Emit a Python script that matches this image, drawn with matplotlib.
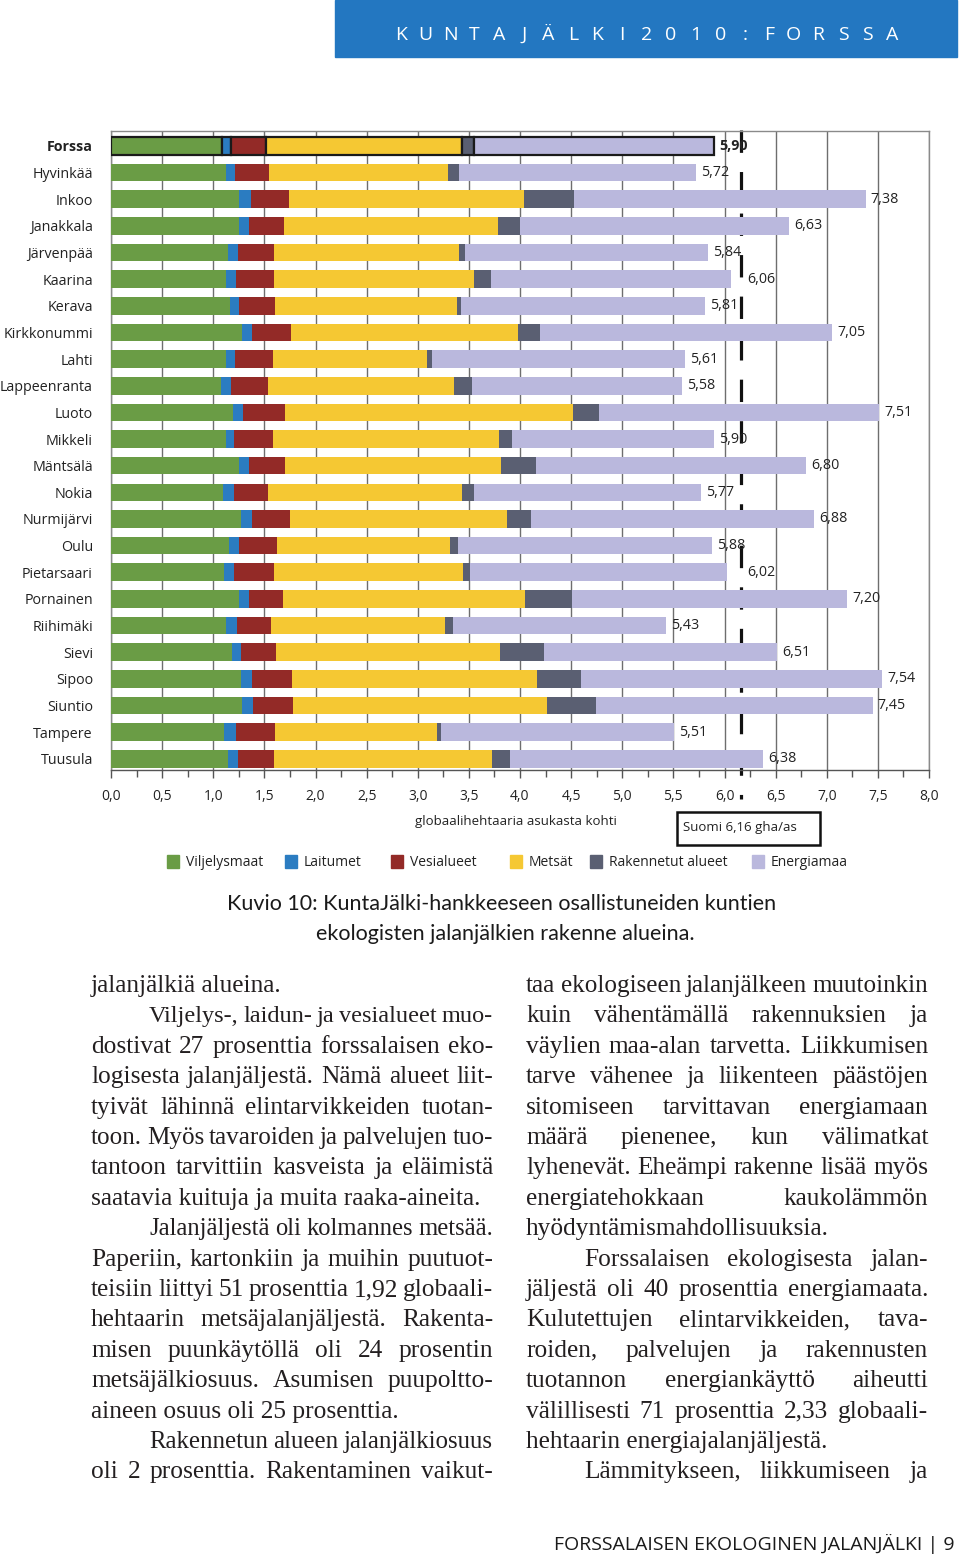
import numpy as np
import matplotlib.pyplot as plt
from matplotlib.patches import Rectangle
from matplotlib.ticker import MultipleLocator

# Kunnat ja jalanjäljen osat (gha/asukas)
kunnat = ['Forssa', 'Hyvinkää', 'Inkoo', 'Janakkala', 'Järvenpää', 'Kaarina', 'Kerava',
          'Kirkkonummi', 'Lahti', 'Lappeenranta', 'Luoto', 'Mikkeli', 'Mäntsälä', 'Nokia',
          'Nurmijärvi', 'Oulu', 'Pietarsaari', 'Pornainen', 'Riihimäki', 'Sievi', 'Sipoo',
          'Siuntio', 'Tampere', 'Tuusula']
viljelysmaat = [1.09, 1.12, 1.25, 1.25, 1.14, 1.12, 1.16, 1.28, 1.12, 1.08, 1.19, 1.12,
                1.25, 1.10, 1.27, 1.15, 1.11, 1.25, 1.12, 1.18, 1.27, 1.28, 1.11, 1.14]
laitumet = [0.08, 0.09, 0.12, 0.10, 0.10, 0.10, 0.09, 0.10, 0.09, 0.09, 0.10, 0.08,
            0.10, 0.10, 0.11, 0.10, 0.09, 0.10, 0.11, 0.09, 0.11, 0.11, 0.11, 0.10]
vesialueet = [0.35, 0.34, 0.37, 0.34, 0.35, 0.37, 0.35, 0.38, 0.37, 0.37, 0.41, 0.38,
              0.35, 0.34, 0.37, 0.37, 0.39, 0.33, 0.33, 0.34, 0.39, 0.39, 0.38, 0.35]
metsat = [1.91, 1.75, 2.30, 2.09, 1.81, 1.96, 1.78, 2.22, 1.51, 1.81, 2.82, 2.21,
          2.11, 1.89, 2.12, 1.70, 1.85, 2.37, 1.71, 2.19, 2.40, 2.48, 1.59, 2.14]
rakennetut = [0.12, 0.10, 0.49, 0.22, 0.06, 0.17, 0.04, 0.22, 0.05, 0.18, 0.25, 0.13,
              0.35, 0.12, 0.24, 0.07, 0.07, 0.46, 0.07, 0.43, 0.43, 0.48, 0.04, 0.17]
energiamaa = [2.35, 2.32, 2.85, 2.63, 2.38, 2.34, 2.39, 2.85, 2.47, 2.05, 2.74, 1.98,
              2.64, 2.22, 2.77, 2.49, 2.51, 2.69, 2.09, 2.28, 2.94, 2.71, 2.28, 2.48]
yhteensa = [5.90, 5.72, 7.38, 6.63, 5.84, 6.06, 5.81, 7.05, 5.61, 5.58, 7.51, 5.90,
            6.80, 5.77, 6.88, 5.88, 6.02, 7.20, 5.43, 6.51, 7.54, 7.45, 5.51, 6.38]
suomi = 6.16

sarjat = ['Viljelysmaat', 'Laitumet', 'Vesialueet', 'Metsät', 'Rakennetut alueet', 'Energiamaa']
varit = ['#6a9c45', '#2b7cc1', '#932a27', '#f5c833', '#5a5f72', '#bab8dd']

vasen_teksti = [
    ("jalanjälkiä alueina.", False, False),
    ("Viljelys-, laidun- ja vesialueet muo-", True, True),
    ("dostivat 27 prosenttia forssalaisen eko-", False, True),
    ("logisesta jalanjäljestä. Nämä alueet liit-", False, True),
    ("tyivät lähinnä elintarvikkeiden tuotan-", False, True),
    ("toon. Myös tavaroiden ja palvelujen tuo-", False, True),
    ("tantoon tarvittiin kasveista ja eläimistä", False, True),
    ("saatavia kuituja ja muita raaka-aineita.", False, False),
    ("Jalanjäljestä oli kolmannes metsää.", True, True),
    ("Paperiin, kartonkiin ja muihin puutuot-", False, True),
    ("teisiin liittyi 51 prosenttia 1,92 globaali-", False, True),
    ("hehtaarin metsäjalanjäljestä. Rakenta-", False, True),
    ("misen puunkäytöllä oli 24 prosentin", False, True),
    ("metsäjälkiosuus. Asumisen puupoltto-", False, True),
    ("aineen osuus oli 25 prosenttia.", False, False),
    ("Rakennetun alueen jalanjälkiosuus", True, True),
    ("oli 2 prosenttia. Rakentaminen vaikut-", False, True),
]
oikea_teksti = [
    ("taa ekologiseen jalanjälkeen muutoinkin", False, True),
    ("kuin vähentämällä rakennuksien ja", False, True),
    ("väylien maa-alan tarvetta. Liikkumisen", False, True),
    ("tarve vähenee ja liikenteen päästöjen", False, True),
    ("sitomiseen tarvittavan energiamaan", False, True),
    ("määrä pienenee, kun välimatkat", False, True),
    ("lyhenevät. Eheämpi rakenne lisää myös", False, True),
    ("energiatehokkaan kaukolämmön", False, True),
    ("hyödyntämismahdollisuuksia.", False, False),
    ("Forssalaisen ekologisesta jalan-", True, True),
    ("jäljestä oli 40 prosenttia energiamaata.", False, True),
    ("Kulutettujen elintarvikkeiden, tava-", False, True),
    ("roiden, palvelujen ja rakennusten", False, True),
    ("tuotannon energiankäyttö aiheutti", False, True),
    ("välillisesti 71 prosenttia 2,33 globaali-", False, True),
    ("hehtaarin energiajalanjäljestä.", False, False),
    ("Lämmitykseen, liikkumiseen ja", True, True),
]

W, H = 960, 1555
fig = plt.figure(figsize=(W / 100, H / 100), dpi=100)
SANS = 'Open Sans'


def fx(px):
    return px / W


def fy(py):
    return 1 - py / H


# otsikkopalkki
fig.patches.append(Rectangle((fx(335), fy(57)), fx(957) - fx(335), 57 / H,
                             transform=fig.transFigure, color='#2377c1', zorder=0))
otsikko = 'KUNTAJÄLKI2010:FORSSA'
for xc, ch in zip(np.linspace(401, 892, len(otsikko)), otsikko):
    fig.text(fx(xc), fy(35), ch, color='white', fontsize=14, family=SANS,
             ha='center', va='center')

# pylväskaavio
ax = fig.add_axes([fx(111), fy(770), (929 - 111) / W, (770 - 131) / H])
y = np.arange(len(kunnat))
alku = np.zeros(len(kunnat))
for arvot, vari in zip([viljelysmaat, laitumet, vesialueet, metsat, rakennetut, energiamaa], varit):
    reunat = ['#1a1a1a' if i == 0 else vari for i in y]
    paksuus = [1.6 if i == 0 else 0 for i in y]
    ax.barh(y, arvot, left=alku, height=0.66, color=vari, edgecolor=reunat,
            linewidth=paksuus, zorder=3)
    alku += np.array(arvot)

# Suomen keskiarvo
ax.plot([suomi, suomi], [-0.6, 24.5], color='#111111', lw=2.3, ls=(0, (7, 6)),
        clip_on=False, zorder=2.5)

siirto = {'Kaarina': 0.11, 'Pietarsaari': 0.15}
for i, (k, tot) in enumerate(zip(kunnat, yhteensa)):
    ax.text(alku[i] + 0.05 + siirto.get(k, 0), i, f'{tot:.2f}'.replace('.', ','),
            va='center', ha='left', fontsize=10.3, family=SANS, color='#222222',
            fontweight='bold' if i == 0 else 'normal', zorder=4)

ax.set_xlim(0, 8)
ax.set_ylim(23.42, -0.56)
ax.set_xticks(np.arange(0, 8.01, 0.5))
ax.set_xticklabels([f'{v:.1f}'.replace('.', ',') for v in np.arange(0, 8.01, 0.5)],
                   family=SANS, fontsize=10, color='#222222')
ax.xaxis.set_minor_locator(MultipleLocator(0.25))
ax.tick_params(axis='x', which='major', length=6, width=1, pad=8, color='#555555')
ax.tick_params(axis='x', which='minor', length=5, width=1, color='#555555')
ax.set_yticks(y)
ax.set_yticklabels(kunnat, family=SANS, fontsize=10.3, color='#222222')
ax.get_yticklabels()[0].set_fontweight('bold')
ax.tick_params(axis='y', length=0, pad=13)
ax.xaxis.grid(True, color='#6e6e6e', lw=1)
ax.set_axisbelow(True)
for s in ax.spines.values():
    s.set_color('#8a8a8a')
    s.set_linewidth(1)
ax.spines['bottom'].set_color('#555555')

fig.text(fx(516), fy(822), 'globaalihehtaaria asukasta kohti', family=SANS, fontsize=9.5,
         ha='center', va='center', color='#222222')
fig.patches.append(Rectangle((fx(677), fy(845)), fx(820) - fx(677), 33 / H,
                             transform=fig.transFigure, fill=False, edgecolor='#111111', lw=1.8))
fig.text(fx(683), fy(828), 'Suomi 6,16 gha/as', family=SANS, fontsize=9.5,
         ha='left', va='center', color='#222222')

# selite
for xm, nimi, vari in zip([167, 285, 391, 510, 590, 752], sarjat, varit):
    fig.patches.append(Rectangle((fx(xm), fy(868)), 12 / W, 13 / H,
                                 transform=fig.transFigure, color=vari))
    fig.text(fx(xm + 19), fy(862), nimi, family=SANS, fontsize=10,
             ha='left', va='center', color='#222222')

# kuvateksti
fig.text(fx(502), fy(904), 'Kuvio 10: KuntaJälki-hankkeeseen osallistuneiden kuntien',
         family='Lato', fontsize=15.5, ha='center', va='center', color='#1a1a1a')
fig.text(fx(505), fy(934), 'ekologisten jalanjälkien rakenne alueina.',
         family='Lato', fontsize=15.5, ha='center', va='center', color='#1a1a1a')

# leipäteksti palstoissa, tasattuna
renderer = fig.canvas.get_renderer()
PERUSKOKO = 18.3


def rivi(teksti, x0, x1, yb, tasaa):
    sanat = teksti.split()
    tyyli = dict(family='Liberation Serif', fontsize=PERUSKOKO, color='#231f20')
    if not tasaa or len(sanat) == 1:
        fig.text(fx(x0), fy(yb), teksti, va='baseline', ha='left', **tyyli)
        return
    osat = [fig.text(0, fy(yb), s, va='baseline', ha='left', **tyyli) for s in sanat]
    koko = PERUSKOKO
    while True:
        leveydet = [o.get_window_extent(renderer).width for o in osat]
        vali = (x1 - x0 - sum(leveydet)) / (len(sanat) - 1)
        if vali >= 4.5 or koko < 15:
            break
        koko -= 0.2
        for o in osat:
            o.set_fontsize(koko)
    x = x0
    for o, lev in zip(osat, leveydet):
        o.set_x(fx(x))
        x += lev + vali


for rivit, x0, x1 in [(vasen_teksti, 91, 493), (oikea_teksti, 526, 928)]:
    for n, (teksti, sisenna, tasaa) in enumerate(rivit):
        rivi(teksti, x0 + (58 if sisenna else 0), x1, 992 + 30.4 * n, tasaa)

fig.text(fx(955), fy(1550), 'FORSSALAISEN EKOLOGINEN JALANJÄLKI | 9', family=SANS,
         fontsize=14, ha='right', va='baseline', color='#1a1a1a')

fig.savefig('out.png', dpi=100)
